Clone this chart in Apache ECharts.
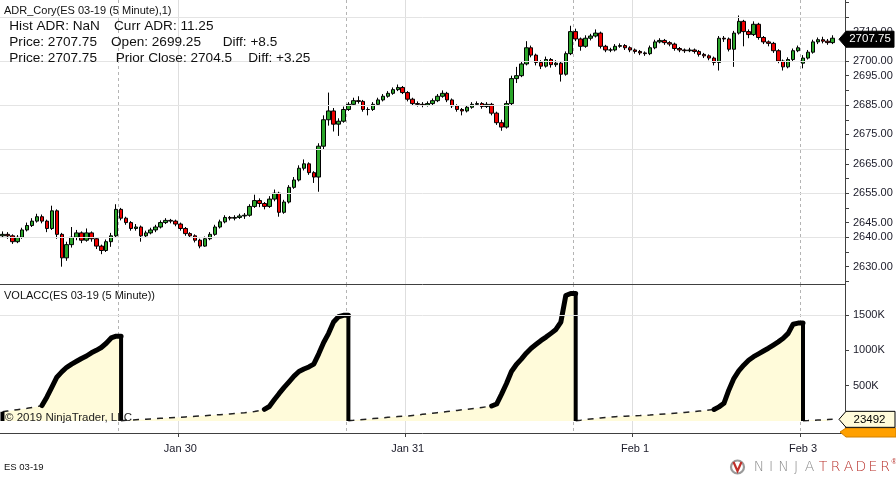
<!DOCTYPE html>
<html><head><meta charset="utf-8">
<script src="https://cdn.jsdelivr.net/npm/echarts@6/dist/echarts.min.js"></script>
<style>html,body{margin:0;padding:0;background:#fff;}#c{width:896px;height:477px;}</style>
</head><body><div id="c"></div>
<script>
// ---- 30-minute slots (ET); slot 0 = Jan 29 05:00 ----
const priceOpen = [2640.5,2641.0,2640.5,2638.5,2640.0,2642.5,2644.0,2645.5,2647.0,2645.5,2643.0,2649.0,2641.0,2633.0,2637.5,2640.0,2641.5,2639.0,2641.5,2639.5,2637.0,2635.5,2638.5,2640.5,
2649.5,2646.5,2645.0,2643.0,2643.5,2640.5,2641.5,2642.5,2643.5,2645.0,2645.75,2645.5,2644.5,2643.0,2641.25,2640.5,2639.0,2637.0,2639.5,2641.0,2643.5,2645.25,2646.75,2646.5,2646.75,2647.25,2647.5,2650.5,2652.5,2651.5,2650.5,2653.0,2655.0,2648.5,2652.0,2657.0,2659.5,2663.5,2665.0,2662.0,2660.5,2671.0,2680.0,2683.0,2678.5,2679.5,
2683.5,2685.25,2686.5,2686.25,2683.5,2683.5,2685.25,2686.75,2688.0,2689.0,2690.25,2691.0,2689.25,2687.0,2685.5,2685.25,2685.0,2685.5,2686.5,2688.0,2689.0,2686.75,2684.75,2683.5,2683.0,2684.25,2685.25,2685.5,2684.5,2685.25,2682.25,2679.0,2677.5,2685.5,2694.0,2695.0,2699.0,2704.5,2702.0,2699.5,2698.25,2700.5,2698.75,2699.25,2695.5,2702.5,
2710.0,2707.5,2705.0,2707.75,2708.5,2709.5,2705.0,2703.75,2703.75,2705.0,2705.25,2704.5,2703.75,2703.25,2702.75,2702.5,2704.5,2706.5,2707.0,2706.25,2705.75,2704.25,2703.75,2703.5,2703.75,2703.25,2702.25,2701.75,2701.0,2699.5,2707.75,2707.5,2704.0,2709.5,2713.5,2710.0,2709.0,2712.5,2708.0,2706.5,2706.0,2703.5,2700.0,2698.0,2700.5,2703.5,
2699.25,2701.0,2703.0,2706.5,2707.25,2706.75,2706.25];
const priceClose = [2641.0,2640.5,2638.5,2640.0,2642.5,2644.0,2645.5,2647.0,2645.5,2643.0,2649.0,2641.0,2633.0,2637.5,2640.0,2641.5,2639.0,2641.5,2639.5,2637.0,2635.5,2638.5,2640.5,2649.5,
2646.5,2645.0,2643.0,2643.5,2640.5,2641.5,2642.5,2643.5,2645.0,2645.75,2645.5,2644.5,2643.0,2641.25,2640.5,2639.0,2637.0,2639.5,2641.0,2643.5,2645.25,2646.75,2646.5,2646.75,2647.25,2647.5,2650.5,2652.5,2651.5,2650.5,2653.0,2655.0,2648.5,2652.0,2657.0,2659.5,2663.5,2665.0,2662.0,2660.5,2671.0,2680.0,2683.0,2678.5,2679.5,2683.5,
2685.25,2686.5,2686.25,2683.5,2683.5,2685.25,2686.75,2688.0,2689.0,2690.25,2691.0,2689.25,2687.0,2685.5,2685.25,2685.0,2685.5,2686.5,2688.0,2689.0,2686.75,2684.75,2683.5,2683.0,2684.25,2685.25,2685.5,2684.5,2685.25,2682.25,2679.0,2677.5,2685.5,2694.0,2695.0,2699.0,2704.5,2702.0,2699.5,2698.25,2700.5,2698.75,2699.25,2695.5,2702.5,2710.0,
2707.5,2705.0,2707.75,2708.5,2709.5,2705.0,2703.75,2703.75,2705.0,2705.25,2704.5,2703.75,2703.25,2702.75,2702.5,2704.5,2706.5,2707.0,2706.25,2705.75,2704.25,2703.75,2703.5,2703.75,2703.25,2702.25,2701.75,2701.0,2699.5,2707.75,2707.5,2704.0,2709.5,2713.5,2710.0,2709.0,2712.5,2708.0,2706.5,2706.0,2703.5,2700.0,2698.0,2700.5,2703.5,2704.5,
2701.0,2703.0,2706.5,2707.25,2706.75,2706.25,2707.75];
const priceLow = [2639.75,2639.5,2637.75,2638.0,2639.5,2642.0,2643.5,2645.0,2644.75,2641.75,2642.5,2639.5,2630.0,2632.0,2636.5,2639.0,2638.0,2638.5,2638.5,2636.0,2634.25,2635.0,2636.75,2640.0,
2645.75,2644.25,2642.25,2642.25,2638.5,2639.75,2641.0,2641.75,2643.0,2644.5,2644.75,2643.75,2642.25,2640.5,2639.75,2638.25,2636.25,2636.75,2639.0,2640.5,2643.0,2644.75,2645.75,2645.75,2646.25,2646.25,2647.0,2650.0,2650.25,2649.5,2650.0,2652.25,2647.0,2648.0,2651.5,2656.5,2659.0,2662.75,2661.25,2658.5,2655.5,2670.0,2678.0,2676.0,2674.5,2679.0,
2683.0,2684.75,2685.5,2682.75,2681.5,2683.0,2684.75,2686.25,2687.5,2688.5,2689.75,2688.75,2686.25,2684.75,2684.5,2684.25,2684.5,2685.0,2686.0,2687.5,2686.0,2684.0,2682.75,2681.5,2682.5,2683.75,2684.75,2683.75,2684.0,2681.5,2678.25,2676.25,2677.0,2685.0,2692.5,2694.5,2698.5,2701.25,2698.5,2697.25,2697.75,2697.75,2698.0,2693.0,2695.0,2702.0,
2706.75,2703.5,2704.5,2707.0,2708.0,2704.25,2703.0,2703.0,2703.25,2704.5,2703.75,2703.0,2702.5,2702.0,2701.75,2702.0,2704.0,2706.0,2705.5,2705.0,2703.5,2703.0,2702.75,2703.0,2702.5,2701.5,2701.0,2700.25,2698.5,2696.75,2706.5,2703.25,2698.0,2709.0,2705.0,2707.75,2708.5,2707.25,2705.75,2705.0,2702.75,2699.25,2696.75,2697.5,2700.0,2703.0,
2697.5,2700.5,2702.5,2705.75,2706.0,2705.5,2705.75];
const priceHigh = [2642.0,2641.75,2641.0,2640.75,2643.25,2645.0,2646.5,2648.0,2647.75,2646.0,2650.75,2649.5,2641.5,2638.5,2643.5,2642.5,2642.0,2643.0,2642.0,2640.0,2637.5,2639.25,2641.5,2651.25,
2650.0,2647.0,2645.5,2644.5,2644.0,2642.25,2643.25,2644.25,2645.75,2646.5,2646.25,2646.0,2645.0,2643.5,2641.75,2641.0,2639.5,2640.25,2641.75,2644.25,2646.0,2647.5,2647.25,2647.5,2648.0,2648.25,2651.25,2654.5,2653.25,2652.0,2654.0,2656.25,2655.5,2652.75,2657.75,2660.5,2664.5,2666.5,2665.5,2662.5,2672.0,2681.5,2689.25,2684.0,2680.5,2684.5,
2686.0,2687.5,2688.0,2686.75,2684.25,2686.0,2687.5,2688.75,2689.75,2691.0,2692.0,2691.5,2689.75,2687.5,2686.25,2686.0,2686.25,2687.25,2688.75,2690.0,2689.5,2687.25,2685.25,2684.0,2685.0,2686.0,2686.25,2686.0,2686.0,2685.75,2682.75,2680.0,2686.5,2695.0,2698.0,2700.0,2706.75,2705.25,2702.5,2700.25,2701.5,2701.0,2700.25,2699.75,2703.25,2712.0,
2711.0,2708.0,2708.75,2709.25,2710.75,2710.0,2705.5,2704.5,2705.75,2706.0,2705.75,2705.0,2704.25,2703.75,2703.25,2705.25,2707.25,2707.75,2707.5,2706.75,2706.25,2704.75,2704.25,2704.5,2704.25,2703.75,2702.75,2702.25,2701.5,2708.5,2708.5,2708.0,2710.25,2715.5,2714.0,2710.75,2713.5,2713.0,2708.5,2707.0,2706.5,2704.0,2700.5,2701.25,2704.25,2705.25,
2702.0,2703.75,2707.25,2708.0,2708.25,2707.5,2708.75];
// cumulative session volume, thousands of contracts
const volAccK = [130,140,150,160,170,180,192,204,218,340,480,620,695,760,805,845,885,920,965,1000,1040,1100,1175,1200,
5,10,14,18,22,26,30,34,38,42,46,50,54,58,62,66,70,75,80,85,90,95,100,106,112,118,125,135,148,165,205,300,390,475,555,635,700,735,765,805,950,1110,1240,1400,1475,1495,
5,10,16,22,28,34,40,46,52,58,63,67,70,78,86,94,102,110,118,126,134,142,150,158,166,174,182,192,202,212,240,380,530,700,800,875,960,1030,1085,1140,1187,1240,1295,1400,1775,1805,
5,12,20,28,36,44,50,56,61,65,68,71,74,77,81,85,90,95,100,105,110,115,121,127,133,140,147,155,163,200,250,440,600,710,790,860,910,950,990,1030,1075,1120,1170,1240,1370,1385,
3,6,10,13,16,20,23.492];

const sessionStartSlots = [0, 24, 70, 116, 162];
const rthStartSlots = [8, 53, 99, 144, null];
const dateTickSlots = [36, 82, 128, 162];
const dateTickLabels = ['Jan 30', 'Jan 31', 'Feb 1', 'Feb 3'];
const dateLineSlots = [36, 82, 128];
const totalSlots = 171;
const priceLabelValues = [2630, 2640, 2645, 2655, 2665, 2675, 2685, 2695, 2700, 2710];
const priceGridValues = [2640, 2655, 2670, 2685, 2700, 2715];
const volLabelValues = [500, 1000, 1500];
const volGridValues = [1500];

const FONT = '"Liberation Sans", Arial, sans-serif';
const cats = Array.from({length: totalSlots}, (_, i) => String(i));
const nData = volAccK.length;
const priceTickValues = [];
for (let v = 2625; v <= 2720; v += 5) priceTickValues.push(v);

const candles = priceOpen.map((o, i) => [o, priceClose[i], priceLow[i], priceHigh[i]]);

const chart = echarts.init(document.getElementById('c'), null, {renderer: 'canvas'});

function blank() { return cats.map(() => '-'); }
const volSeries = [];
sessionStartSlots.forEach((a, s) => {
  const b = s + 1 < sessionStartSlots.length ? sessionStartSlots[s + 1] : nData;
  const area = blank(), thin = blank(), thick = blank();
  for (let i = a; i < b; i++) { area[i] = volAccK[i]; thin[i] = volAccK[i]; }
  if (b < nData) area[b] = volAccK[b - 1];
  if (rthStartSlots[s] != null) {
    for (let i = rthStartSlots[s]; i < b; i++) thick[i] = volAccK[i];
    if (b < nData) thick[b] = volAccK[b - 1];
  }
  volSeries.push({type: 'line', xAxisIndex: 2, yAxisIndex: 1, data: area, symbol: 'none', z: 1,
    lineStyle: {width: 0}, areaStyle: {color: '#FFFBDA', opacity: 1}, silent: true});
  volSeries.push({type: 'line', xAxisIndex: 2, yAxisIndex: 1, data: thin, symbol: 'none', z: 2,
    lineStyle: {width: 1.5, color: '#222', type: [6, 6]}, silent: true});
  volSeries.push({type: 'line', xAxisIndex: 2, yAxisIndex: 1, data: thick, symbol: 'none', z: 3,
    lineStyle: {width: 5, color: '#000', cap: 'round', join: 'round'}, silent: true});
});
const barData = blank();
sessionStartSlots.forEach((a) => { barData[a] = a === 0 ? volAccK[0] : volAccK[a - 1]; });
volSeries.push({type: 'bar', xAxisIndex: 2, yAxisIndex: 1, data: barData, barWidth: 4, z: 4,
  itemStyle: {color: '#000'}, silent: true});

function catAxis(grid, opts) {
  return Object.assign({
    type: 'category', gridIndex: grid, data: cats, boundaryGap: true, position: 'bottom',
    axisLine: {show: false, onZero: false}, axisTick: {show: false}, axisLabel: {show: false},
    splitLine: {show: false}
  }, opts);
}

const option = {
  animation: false,
  backgroundColor: '#fff',
  textStyle: {fontFamily: FONT},
  grid: [
    {left: 0, right: 51, top: 0, height: 284, outerBoundsMode: 'none', containLabel: false},
    {left: 0, right: 51, top: 284, height: 149, outerBoundsMode: 'none', containLabel: false}
  ],
  xAxis: [
    catAxis(0, {axisLine: {show: true, onZero: false, lineStyle: {color: '#404040', width: 1}},
      splitLine: {show: true, interval: (i) => dateLineSlots.includes(i), lineStyle: {color: '#dedede', width: 1}}}),
    catAxis(0, {splitLine: {show: true, interval: (i) => sessionStartSlots.includes(i) && i > 0, lineStyle: {color: '#b4b4b4', width: 1, type: [3, 3]}}}),
    catAxis(1, {axisLine: {show: true, onZero: false, lineStyle: {color: '#404040', width: 1}},
      axisTick: {show: true, length: 4, interval: (i) => dateTickSlots.includes(i), lineStyle: {color: '#404040'}},
      axisLabel: {show: true, interval: (i) => dateTickSlots.includes(i), margin: 10,
        formatter: (v, i) => { const k = dateTickSlots.indexOf(Number(v)); return k >= 0 ? dateTickLabels[k] : ''; },
        color: '#1a1a28', fontSize: 11, fontFamily: FONT},
      splitLine: {show: true, interval: (i) => dateLineSlots.includes(i), lineStyle: {color: '#dedede', width: 1}}}),
    catAxis(1, {splitLine: {show: true, interval: (i) => sessionStartSlots.includes(i) && i > 0, lineStyle: {color: '#b4b4b4', width: 1, type: [3, 3]}}})
  ],
  yAxis: [
    {type: 'value', gridIndex: 0, position: 'right', min: 2624.1, max: 2720.76, scale: true,
      axisLine: {show: true, onZero: false, lineStyle: {color: '#404040'}},
      axisTick: {show: true, length: 4, inside: false, customValues: priceTickValues, lineStyle: {color: '#404040'}},
      axisLabel: {show: true, customValues: priceLabelValues, margin: 8, formatter: (v) => Number(v).toFixed(2),
        color: '#1a1a28', fontSize: 11, fontFamily: FONT},
      splitLine: {show: false}},
    {type: 'value', gridIndex: 1, position: 'right', min: -169.8, max: 1938.6,
      axisLine: {show: true, onZero: false, lineStyle: {color: '#404040'}},
      axisTick: {show: true, length: 4, inside: false, customValues: volLabelValues, lineStyle: {color: '#404040'}},
      axisLabel: {show: true, customValues: volLabelValues, margin: 8, formatter: (v) => v + 'K',
        color: '#1a1a28', fontSize: 11, fontFamily: FONT},
      splitLine: {show: false}}
  ],
  series: [
    {type: 'line', xAxisIndex: 0, yAxisIndex: 0, data: blank(), z: 0, silent: true,
      markLine: {silent: true, symbol: 'none', label: {show: false}, animation: false,
        lineStyle: {color: '#e4e4e4', width: 1, type: 'solid'},
        data: priceGridValues.map((v) => ({yAxis: v}))}},
    {type: 'line', xAxisIndex: 2, yAxisIndex: 1, data: blank(), z: 0, silent: true,
      markLine: {silent: true, symbol: 'none', label: {show: false}, animation: false,
        lineStyle: {color: '#e4e4e4', width: 1, type: 'solid'},
        data: volGridValues.map((v) => ({yAxis: v}))}},
    {type: 'candlestick', xAxisIndex: 0, yAxisIndex: 0, data: candles, barWidth: 4, z: 3, silent: true,
      itemStyle: {color: '#2aa52a', color0: '#f00000', borderColor: '#000', borderColor0: '#000', borderColorDoji: '#000', borderWidth: 1}}
  ].concat(volSeries)
};
chart.setOption(option);

// ---- overlays: headers, last-value markers, logo ----
const lastPrice = priceClose[priceClose.length - 1];
const lastVol = volAccK[nData - 1];
const yp = chart.convertToPixel({yAxisIndex: 0}, lastPrice);
const yv = chart.convertToPixel({yAxisIndex: 1}, lastVol);

function txt(x, y, s, size, color) {
  return {type: 'text', z: 100, style: {x: x, y: y, text: s, fill: color || '#111',
    fontSize: size, fontFamily: FONT, textVerticalAlign: 'middle', textAlign: 'left'}};
}
const g = [];
g.push(txt(4, 10.5, 'ADR_Cory(ES 03-19 (5 Minute),1)', 11, '#111'));
g.push(txt(9.3, 26, 'Hist ADR: NaN', 13.6, '#111'));
g.push(txt(114, 26, 'Curr ADR: 11.25', 13.6, '#111'));
g.push(txt(9.3, 42.3, 'Price: 2707.75', 13.6, '#111'));
g.push(txt(111, 42.3, 'Open: 2699.25', 13.6, '#111'));
g.push(txt(222.7, 42.3, 'Diff: +8.5', 13.6, '#111'));
g.push(txt(9.3, 58.3, 'Price: 2707.75', 13.6, '#111'));
g.push(txt(115.7, 58.3, 'Prior Close: 2704.5', 13.6, '#111'));
g.push(txt(248.3, 58.3, 'Diff: +3.25', 13.6, '#111'));
g.push(txt(4, 295.5, 'VOLACC(ES 03-19 (5 Minute))', 11, '#111'));
g.push(txt(5, 418, '\u00A9 2019 NinjaTrader, LLC', 11.5, '#222'));
g.push(txt(4, 467, 'ES 03-19', 9.5, '#111'));

// orange partially hidden marker
g.push({type: 'polygon', z: 98, shape: {points: [[840, 432], [846, 428], [896, 428], [896, 437], [846, 437]]},
  style: {fill: '#FFA000', stroke: '#d08000', lineWidth: 1}});
// volume marker
g.push({type: 'polygon', z: 99, shape: {points: [[839, yv], [846, yv - 8], [895, yv - 8], [895, yv + 8], [846, yv + 8]]},
  style: {fill: '#FFFBDA', stroke: '#000', lineWidth: 1}});
g.push({type: 'text', z: 100, style: {x: 869.5, y: yv + 0.5, text: String(Math.round(lastVol * 1000)), fill: '#000', fontSize: 11.5, fontFamily: FONT, textAlign: 'center', textVerticalAlign: 'middle'}});
// price marker
g.push({type: 'polygon', z: 99, shape: {points: [[839, yp + 1], [846, yp - 7], [894, yp - 7], [894, yp + 9], [846, yp + 9]]},
  style: {fill: '#000', stroke: '#000', lineWidth: 1}});
g.push({type: 'text', z: 100, style: {x: 870, y: yp + 1, text: lastPrice.toFixed(2), fill: '#fff', fontSize: 11.5, fontFamily: FONT, textAlign: 'center', textVerticalAlign: 'middle'}});

// logo
g.push({type: 'circle', z: 100, shape: {cx: 737.5, cy: 467, r: 6.5}, style: {fill: 'none', stroke: '#9a9a9a', lineWidth: 2.2}});
g.push({type: 'polyline', z: 101, shape: {points: [[733.5, 462], [737.5, 471], [741.5, 462]]}, style: {fill: 'none', stroke: '#c0302a', lineWidth: 2.2}});
const logoLetters = ['N','I','N','J','A','T','R','A','D','E','R'];
const logoX = [759, 771, 783.5, 796, 809.5, 823, 835.5, 848.5, 861, 873, 885];
logoLetters.forEach((ch, k) => {
  g.push({type: 'text', z: 100, style: {x: logoX[k], y: 467, text: ch, fill: k < 5 ? '#8c8c8c' : '#b8302a',
    fontSize: 14, fontWeight: 200, fontFamily: '"DejaVu Sans ExtraLight", "DejaVu Sans", sans-serif', textAlign: 'center', textVerticalAlign: 'middle'}});
});
g.push({type: 'text', z: 100, style: {x: 894, y: 462, text: '\u00AE', fill: '#b8302a', fontSize: 7, fontFamily: FONT, textAlign: 'center', textVerticalAlign: 'middle'}});

chart.setOption({graphic: g});
</script>
</body></html>
